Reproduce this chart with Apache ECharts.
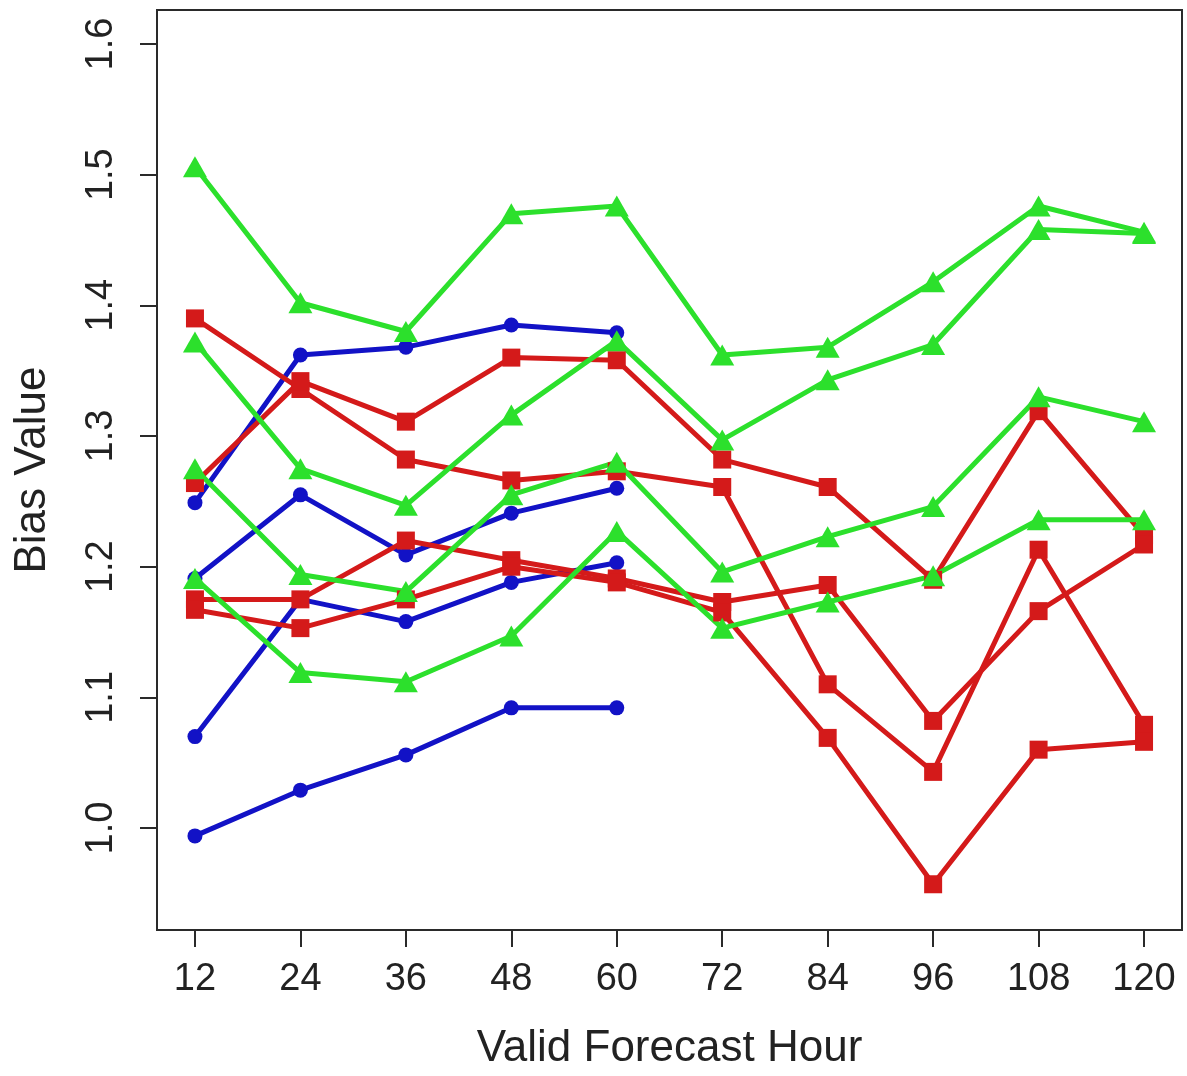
<!DOCTYPE html>
<html>
<head>
<meta charset="utf-8">
<title>Bias Value</title>
<script src="https://cdn.jsdelivr.net/npm/echarts@6/dist/echarts.min.js"></script>
<style>
    html, body { margin: 0; padding: 0; background: #ffffff; }
    #chart { width: 1187px; height: 1076px; }
</style>
</head>
<body>
<div id="chart"></div>
<script>
// forecast hours on the x axis
var hours = [12, 24, 36, 48, 60, 72, 84, 96, 108, 120];
var yTicks = [1.0, 1.1, 1.2, 1.3, 1.4, 1.5, 1.6];

// blue runs only go out to 60h
var blue1 = [1.249, 1.362, 1.368, 1.385, 1.379];
var blue2 = [1.191, 1.255, 1.209, 1.241, 1.260];
var blue3 = [1.070, 1.175, 1.158, 1.188, 1.203];
var blue4 = [0.994, 1.029, 1.056, 1.092, 1.092];

var red1 = [1.390, 1.336, 1.282, 1.266, 1.273, 1.261, 1.110, 1.043, 1.213, 1.079];
var red2 = [1.264, 1.342, 1.311, 1.360, 1.358, 1.282, 1.261, 1.190, 1.319, 1.224];
var red3 = [1.175, 1.175, 1.220, 1.205, 1.191, 1.173, 1.186, 1.082, 1.166, 1.217];
var red4 = [1.167, 1.153, 1.175, 1.200, 1.188, 1.165, 1.069, 0.957, 1.060, 1.066];

var green1 = [1.506, 1.402, 1.380, 1.470, 1.476, 1.362, 1.368, 1.418, 1.476, 1.456];
var green2 = [1.372, 1.275, 1.247, 1.316, 1.373, 1.297, 1.343, 1.370, 1.458, 1.455];
var green3 = [1.275, 1.194, 1.181, 1.255, 1.280, 1.196, 1.223, 1.246, 1.330, 1.311];
var green4 = [1.191, 1.119, 1.112, 1.147, 1.227, 1.153, 1.173, 1.193, 1.236, 1.236];

var BLUE = '#1212c6';
var RED = '#d41a1a';
var GREEN = '#2ce02c';

function toPairs(vals) {
    var out = [];
    for (var i = 0; i < vals.length; ++i) {
        out.push([hours[i], vals[i]]);
    }
    return out;
}

function lineSeries(vals, color, symbol, size) {
    return {
        type: 'line',
        data: toPairs(vals),
        symbol: symbol,
        symbolSize: size,
        showAllSymbol: true,
        animation: false,
        lineStyle: { color: color, width: 5 },
        itemStyle: { color: color, borderWidth: 0 }
    };
}

var series = [];
[blue1, blue2, blue3, blue4].forEach(function (v) {
    series.push(lineSeries(v, BLUE, 'circle', 15));
});
[red1, red2, red3, red4].forEach(function (v) {
    series.push(lineSeries(v, RED, 'rect', 18));
});
[green1, green2, green3, green4].forEach(function (v) {
    series.push(lineSeries(v, GREEN, 'triangle', [24, 21]));
});

var chart = echarts.init(document.getElementById('chart'));

var fontFam = 'Liberation Sans, Arial, sans-serif';

var option = {
    backgroundColor: '#ffffff',
    animation: false,
    grid: {
        left: 157,
        right: 5,
        top: 10,
        bottom: 144,
        show: true,
        borderColor: '#2a2a2a',
        borderWidth: 2,
        backgroundColor: 'transparent'
    },
    xAxis: {
        type: 'value',
        min: 7.68,
        max: 124.32,
        name: 'Valid Forecast Hour',
        nameLocation: 'middle',
        nameGap: 97,
        nameTextStyle: { fontFamily: fontFam, fontSize: 44, color: '#222' },
        axisLine: { show: false },
        splitLine: { show: false },
        axisTick: { show: true, length: 17, lineStyle: { color: '#2a2a2a', width: 2 }, customValues: hours },
        axisLabel: { fontFamily: fontFam, fontSize: 38, color: '#222', margin: 31, customValues: hours }
    },
    yAxis: {
        type: 'value',
        min: 0.922,
        max: 1.626,
        name: 'Bias Value',
        nameLocation: 'middle',
        nameGap: 102,
        nameTextStyle: { fontFamily: fontFam, fontSize: 44, color: '#222' },
        axisLine: { show: false },
        splitLine: { show: false },
        axisTick: { show: true, length: 17, lineStyle: { color: '#2a2a2a', width: 2 }, customValues: yTicks },
        axisLabel: {
            fontFamily: fontFam,
            fontSize: 38,
            color: '#222',
            rotate: 90,
            margin: 36,
            customValues: yTicks,
            formatter: function (v) { return v.toFixed(1); }
        }
    },
    series: series
};

chart.setOption(option);
</script>
</body>
</html>
